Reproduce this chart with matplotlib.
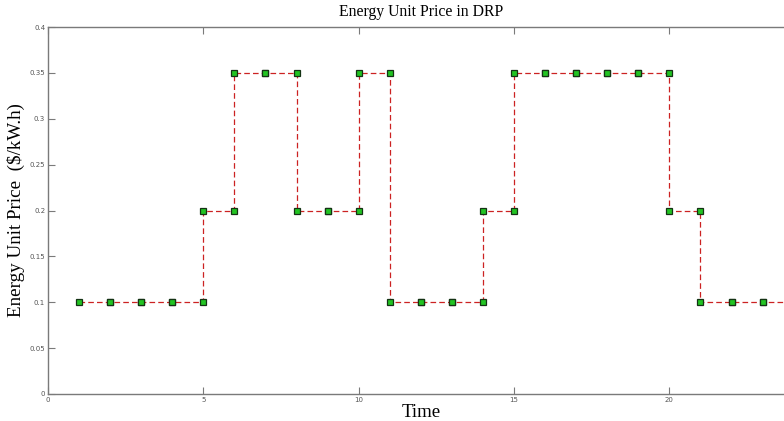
import numpy as np
import matplotlib
matplotlib.use("Agg")
import matplotlib.pyplot as plt

# Hourly energy unit price ($/kW.h) under the demand response program
hours = list(range(1, 25))
price = [0.10, 0.10, 0.10, 0.10, 0.20, 0.35, 0.35, 0.20, 0.20, 0.35,
         0.10, 0.10, 0.10, 0.20, 0.35, 0.35, 0.35, 0.35, 0.35, 0.20,
         0.10, 0.10, 0.10, 0.10]
xticks = [0, 5, 10, 15, 20]
yticks = [0, 0.05, 0.1, 0.15, 0.2, 0.25, 0.3, 0.35, 0.4]

# Build staircase vertices (each hour's value held until the next hour)
xs, ys = [], []
for i, (h, p) in enumerate(zip(hours, price)):
    if i > 0:
        xs.append(h)
        ys.append(price[i - 1])
    xs.append(h)
    ys.append(p)

plt.rcParams["font.family"] = ["Liberation Serif", "DejaVu Serif"]

fig = plt.figure(figsize=(7.84, 4.21), dpi=100)
ax = fig.add_axes([48 / 784, 27 / 421, 745.7 / 784, 367 / 421])

ax.plot(xs, ys, color="#cc2222", lw=0.9, ls=(0, (4.5, 2.5)),
        marker="s", markersize=4.8, markerfacecolor="#22c422",
        markeredgecolor="#143214", markeredgewidth=0.9, clip_on=False)

ax.set_xlim(0, 24)
ax.set_ylim(0, 0.4)
ax.set_xticks(xticks)
ax.set_yticks(yticks)
ax.set_xticklabels([str(t) for t in xticks])
ax.set_yticklabels(["0", "0.05", "0.1", "0.15", "0.2", "0.25", "0.3", "0.35", "0.4"])

gray = "#7a7a7a"
for s in ax.spines.values():
    s.set_color(gray)
    s.set_linewidth(1.0)
ax.tick_params(direction="in", length=5, width=0.8, color=gray,
               labelcolor="#555555", labelsize=5, top=True, right=True, pad=2)
for lbl in ax.get_xticklabels() + ax.get_yticklabels():
    lbl.set_family("DejaVu Sans")

ax.set_title("Energy Unit Price in DRP", fontsize=11.3, pad=8)
ax.set_xlabel("Time", fontsize=13.5, labelpad=1)
ax.set_ylabel("Energy Unit Price  ($/kW.h)", fontsize=13.7, labelpad=3)

fig.savefig("out.png", dpi=100)
